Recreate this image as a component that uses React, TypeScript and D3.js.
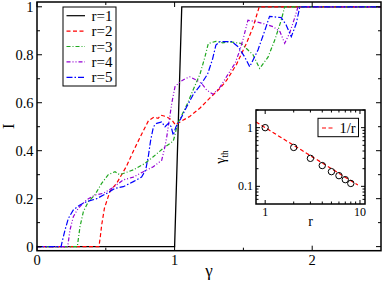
import React from "react";
import * as d3 from "d3";

// ---- data ----
const seriesNames = ["r=1", "r=2", "r=3", "r=4", "r=5"];
const r1: [number, number][] = [[0, 0], [1.0, 0], [1.052, 1], [2.5, 1]];
const r2: [number, number][] = [
  [0, 0], [0.45, 0], [0.46, 0.04], [0.47, 0.09], [0.49, 0.16], [0.53, 0.23], [0.58, 0.265],
  [0.65, 0.335], [0.71, 0.41], [0.77, 0.48], [0.81, 0.525], [0.85, 0.54], [0.88, 0.535],
  [0.9, 0.548], [0.94, 0.542], [0.98, 0.528], [1.005, 0.508], [1.04, 0.52], [1.11, 0.543],
  [1.185, 0.578], [1.257, 0.62], [1.33, 0.66], [1.38, 0.695], [1.45, 0.76], [1.52, 0.845],
  [1.57, 0.915], [1.615, 1], [2.5, 1],
];
const r3: [number, number][] = [
  [0, 0], [0.293, 0], [0.3, 0.03], [0.3125, 0.083], [0.337, 0.146], [0.373, 0.1875],
  [0.42, 0.215], [0.47, 0.264], [0.518, 0.3], [0.567, 0.3125], [0.6, 0.3], [0.627, 0.305],
  [0.7, 0.32], [0.785, 0.347], [0.845, 0.375], [0.918, 0.41], [0.99, 0.44], [1.0, 0.46],
  [1.02, 0.51], [1.088, 0.59], [1.136, 0.655], [1.185, 0.72], [1.22, 0.79], [1.245, 0.847],
  [1.3, 0.856], [1.35, 0.85], [1.4, 0.854], [1.485, 0.847], [1.52, 0.827], [1.57, 0.8],
  [1.618, 0.743], [1.679, 0.79], [1.727, 0.86], [1.775, 0.944], [1.8, 1], [2.5, 1],
];
const r4: [number, number][] = [
  [0, 0], [0.223, 0], [0.24, 0.07], [0.264, 0.125], [0.3, 0.16], [0.36, 0.195], [0.42, 0.215],
  [0.48, 0.222], [0.543, 0.243], [0.627, 0.278], [0.7, 0.29], [0.773, 0.3125], [0.845, 0.333],
  [0.906, 0.36], [0.93, 0.417], [0.943, 0.458], [0.967, 0.55], [0.98, 0.6], [1.003, 0.667],
  [1.04, 0.6875], [1.076, 0.7], [1.11, 0.708], [1.16, 0.694], [1.197, 0.68], [1.233, 0.653],
  [1.28, 0.635], [1.33, 0.665], [1.39, 0.72], [1.44, 0.765], [1.475, 0.82], [1.5, 0.87],
  [1.533, 0.944], [1.572, 0.94], [1.645, 0.93], [1.717, 0.917], [1.766, 0.896], [1.8, 0.848],
  [1.836, 0.89], [1.875, 0.958], [1.897, 1], [2.5, 1],
];
const r5: [number, number][] = [
  [0, 0], [0.175, 0], [0.18, 0.014], [0.204, 0.07], [0.228, 0.118], [0.264, 0.153],
  [0.3125, 0.174], [0.36, 0.1875], [0.434, 0.2], [0.506, 0.222], [0.567, 0.243], [0.627, 0.25],
  [0.7, 0.271], [0.76, 0.29], [0.79, 0.32], [0.81, 0.38], [0.825, 0.44], [0.846, 0.5],
  [0.87, 0.514], [0.906, 0.52], [0.93, 0.5], [0.955, 0.514], [0.975, 0.5], [0.99, 0.465],
  [1.01, 0.5], [1.04, 0.528], [1.088, 0.583], [1.136, 0.635], [1.19, 0.675], [1.24, 0.72],
  [1.275, 0.78], [1.3, 0.84], [1.33, 0.855], [1.415, 0.855], [1.463, 0.833], [1.51, 0.79],
  [1.546, 0.75], [1.606, 0.82], [1.655, 0.9], [1.69, 0.96], [1.775, 0.955], [1.81, 0.925],
  [1.848, 0.875], [1.884, 0.93], [1.91, 1], [2.5, 1],
];
const seriesData = [r1, r2, r3, r4, r5];
const seriesColors = ["#000000", "#ff0000", "#1fa81f", "#9400d3", "#0000ff"];
const seriesDash = ["", "4,2.5", "4,2,1,2", "4,2,1,2,1,2", "6,2,1.5,2"];

const xMajor = [0, 1, 2];
const xMinor = [0.5, 1.5];
const yMajor = [0, 0.2, 0.4, 0.6, 0.8, 1];
const yMinor = [0.1, 0.3, 0.5, 0.7, 0.9];

// inset data
const insetR = [1, 2, 3, 4, 5, 6, 7, 8];
const insetGamma = [1.0, 0.46, 0.3, 0.226, 0.178, 0.152, 0.13, 0.112];
const fitR = [0.8, 9.5];
const insetXMajor = [1, 10];
const insetXMinor = [2, 3, 4, 5, 6, 7, 8, 9];
const insetYMajor = [0.1, 1];
const insetYMinor = [0.06, 0.07, 0.08, 0.09, 0.2, 0.3, 0.4, 0.5, 0.6, 0.7, 0.8, 0.9, 2];

const FONT = "Liberation Serif";

export default function App() {
  const L = 37, R = 381, T = 2, B = 250.7;
  const x = d3.scaleLinear().domain([0, 2.5]).range([L, R]);
  const y = d3.scaleLinear().domain([-0.017, 1.02]).range([B, T]);
  const line = d3.line<[number, number]>().x((d) => x(d[0])).y((d) => y(d[1]));

  const iL = 256, iR = 365, iT = 110, iB = 204;
  const ix = d3.scaleLog().domain([0.8, 11.3]).range([iL, iR]);
  const iy = d3.scaleLog().domain([0.05, 2]).range([iB, iT]);
  const fitLine = d3.line<number>().x((r) => ix(r)).y((r) => iy(1 / r));

  const maj = 5, mnr = 3;
  const iMaj = 4, iMnr = 2.5;

  return (
    <svg width={382} height={282} style={{ position: "absolute", left: 0, top: 0, background: "#fff" }}
      fontFamily={FONT}>
      <rect x={0} y={0} width={382} height={282} fill="#fff" />
      {/* curves */}
      <g fill="none">
        {seriesData.map((d, i) => (
          <path key={i} d={line(d) || ""} stroke={seriesColors[i]} strokeWidth={i === 0 ? 1.3 : 1.2}
            strokeDasharray={seriesDash[i] || undefined} />
        ))}
      </g>
      {/* ticks */}
      <g stroke="#000" strokeWidth={1}>
        {xMajor.map((v) => (
          <g key={"xM" + v}>
            <line x1={x(v)} x2={x(v)} y1={B} y2={B - maj} />
            <line x1={x(v)} x2={x(v)} y1={T} y2={T + maj} />
          </g>
        ))}
        {xMinor.map((v) => (
          <g key={"xm" + v}>
            <line x1={x(v)} x2={x(v)} y1={B} y2={B - mnr} />
            <line x1={x(v)} x2={x(v)} y1={T} y2={T + mnr} />
          </g>
        ))}
        {yMajor.map((v) => (
          <g key={"yM" + v}>
            <line x1={L} x2={L + maj} y1={y(v)} y2={y(v)} />
            <line x1={R} x2={R - maj} y1={y(v)} y2={y(v)} />
          </g>
        ))}
        {yMinor.map((v) => (
          <g key={"ym" + v}>
            <line x1={L} x2={L + mnr} y1={y(v)} y2={y(v)} />
            <line x1={R} x2={R - mnr} y1={y(v)} y2={y(v)} />
          </g>
        ))}
      </g>
      <rect x={L} y={T} width={R - L} height={B - T} fill="none" stroke="#000" strokeWidth={1.5} />
      {/* tick labels */}
      <g fontSize={14.5} fill="#000">
        {xMajor.map((v) => (
          <text key={"xl" + v} x={x(v)} y={265} textAnchor="middle">{String(v)}</text>
        ))}
        {yMajor.map((v) => (
          <text key={"yl" + v} x={33.5} y={y(v) + 5} textAnchor="end">{String(v)}</text>
        ))}
      </g>
      <text x={(L + R) / 2} y={276} fontSize={17} textAnchor="middle">γ</text>
      <text transform={`translate(14,${(T + B) / 2}) rotate(-90)`} fontSize={16.5} textAnchor="middle">I</text>

      {/* legend */}
      <rect x={63} y={7} width={53} height={79} fill="#fff" stroke="#000" strokeWidth={1} />
      {seriesNames.map((n, i) => {
        const yy = 15.7 + i * 15.4;
        return (
          <g key={n}>
            <line x1={66.5} x2={85} y1={yy} y2={yy} stroke={seriesColors[i]} strokeWidth={1.2}
              strokeDasharray={seriesDash[i] || undefined} />
            <text x={91.5} y={yy + 5} fontSize={15}>{n}</text>
          </g>
        );
      })}

      {/* inset */}
      <rect x={iL} y={iT} width={iR - iL} height={iB - iT} fill="#fff" />
      <path d={fitLine(d3.range(0, 41).map((k) => fitR[0] * Math.pow(fitR[1] / fitR[0], k / 40))) || ""}
        fill="none" stroke="#ff0000" strokeWidth={1.2} strokeDasharray="4,2.5" />
      {insetR.map((r, i) => (
        <circle key={r} cx={ix(r)} cy={iy(insetGamma[i])} r={3.2} fill="none" stroke="#000" strokeWidth={1} />
      ))}
      <g stroke="#000" strokeWidth={1}>
        {insetXMajor.map((v) => (
          <g key={"ixM" + v}>
            <line x1={ix(v)} x2={ix(v)} y1={iB} y2={iB - iMaj} />
            <line x1={ix(v)} x2={ix(v)} y1={iT} y2={iT + iMaj} />
          </g>
        ))}
        {insetXMinor.map((v) => (
          <g key={"ixm" + v}>
            <line x1={ix(v)} x2={ix(v)} y1={iB} y2={iB - iMnr} />
            <line x1={ix(v)} x2={ix(v)} y1={iT} y2={iT + iMnr} />
          </g>
        ))}
        {insetYMajor.map((v) => (
          <g key={"iyM" + v}>
            <line x1={iL} x2={iL + iMaj} y1={iy(v)} y2={iy(v)} />
            <line x1={iR} x2={iR - iMaj} y1={iy(v)} y2={iy(v)} />
          </g>
        ))}
        {insetYMinor.map((v) => (
          <g key={"iym" + v}>
            <line x1={iL} x2={iL + iMnr} y1={iy(v)} y2={iy(v)} />
            <line x1={iR} x2={iR - iMnr} y1={iy(v)} y2={iy(v)} />
          </g>
        ))}
      </g>
      <rect x={iL} y={iT} width={iR - iL} height={iB - iT} fill="none" stroke="#000" strokeWidth={1.5} />
      <g fontSize={12}>
        {insetXMajor.map((v) => (
          <text key={"ixl" + v} x={ix(v)} y={216} textAnchor="middle">{String(v)}</text>
        ))}
        {insetYMajor.map((v) => (
          <text key={"iyl" + v} x={253} y={iy(v) + 4} textAnchor="end">{String(v)}</text>
        ))}
      </g>
      <text x={(iL + iR) / 2} y={226} fontSize={14} textAnchor="middle">r</text>
      <text transform={`translate(225,${(iT + iB) / 2}) rotate(-90)`} fontSize={14} textAnchor="middle">
        γ<tspan fontSize={9.5} dy={3}>th</tspan>
      </text>
      {/* inset legend */}
      <rect x={318} y={118.3} width={40.5} height={18.4} fill="#fff" stroke="#000" strokeWidth={1} />
      <line x1={322} x2={335} y1={128} y2={128} stroke="#ff0000" strokeWidth={1.2} strokeDasharray="4,2.5" />
      <text x={339.5} y={133} fontSize={14.5}>1/r</text>
    </svg>
  );
}
